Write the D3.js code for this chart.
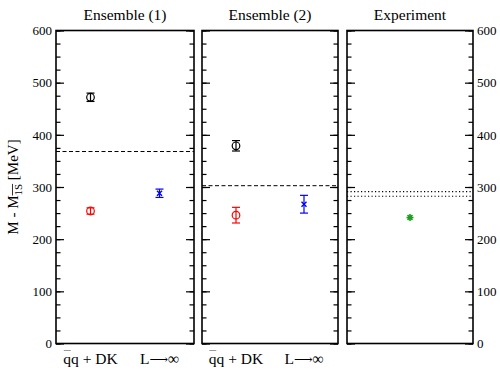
<!DOCTYPE html>
<html>
<head>
<meta charset="utf-8">
<script src="https://cdn.jsdelivr.net/npm/d3@7"></script>
<style>
  body { margin: 0; background: #fff; }
</style>
</head>
<body>
<div id="chart"></div>
<script>
// data (MeV)
var panelTitles = ["Ensemble (1)", "Ensemble (2)", "Experiment"];
var categories = ["qq + DK", "L\u2192\u221e"];
var qqdkHigh = [472, 379];      // black circles
var qqdkHighErr = [8, 10];
var qqdkLow = [254, 246];       // red circles
var qqdkLowErr = [6, 15];
var infVolume = [288, 267];     // blue crosses
var infVolumeErr = [8, 17];
var latticeThreshold = [368, 302.5];
var expMass = [241.6];
var expThresholds = [282.3, 291.0];
var yTicks = [0, 100, 200, 300, 400, 500, 600];

// layout
var width = 500,
    height = 370,
    plotTop = 30.5,
    plotBottom = 343.5;
var panelX = [[56, 194], [202, 338], [347, 473]];
var serif = "'Liberation Serif', 'Times New Roman', Times, 'DejaVu Serif', serif";

var svg = d3.select("#chart")
  .append("svg")
    .attr("width", width)
    .attr("height", height)
    .attr("font-family", serif);

var y = d3.scaleLinear().domain([0, 600]).range([plotBottom, plotTop]);

panelX.forEach(function(px, i) {
  var g = svg.append("g");
  var x = i < 2
    ? d3.scaleLinear().domain([0, 4]).range(px)
    : d3.scaleLinear().domain([0, 2]).range(px);

  // minor + major ticks, inward on both sides
  [[d3.axisLeft, px[0]], [d3.axisRight, px[1]]].forEach(function(a) {
    g.append("g")
      .attr("transform", "translate(" + a[1] + ",0)")
      .call(a[0](y).tickValues(d3.range(0, 601, 25)).tickFormat("").tickSize(-4.5))
      .call(function(s) { s.select(".domain").remove(); })
      .selectAll("line").attr("stroke", "#000").attr("stroke-width", 1.2);
    g.append("g")
      .attr("transform", "translate(" + a[1] + ",0)")
      .call(a[0](y).tickValues(yTicks).tickFormat("").tickSize(-8))
      .call(function(s) { s.select(".domain").remove(); })
      .selectAll("line").attr("stroke", "#000").attr("stroke-width", 1.2);
  });

  // frame
  g.append("rect")
    .attr("x", px[0]).attr("y", plotTop)
    .attr("width", px[1] - px[0]).attr("height", plotBottom - plotTop)
    .attr("fill", "none").attr("stroke", "#000").attr("stroke-width", 1.6);

  // title
  g.append("text")
    .attr("x", (px[0] + px[1]) / 2).attr("y", 19.5)
    .attr("text-anchor", "middle")
    .attr("font-family", serif)
    .attr("font-size", 15.5)
    .text(panelTitles[i]);

  if (i < 2) {
    // threshold dashed line
    g.append("line")
      .attr("x1", px[0]).attr("x2", px[1])
      .attr("y1", y(latticeThreshold[i])).attr("y2", y(latticeThreshold[i]))
      .attr("stroke", "#000").attr("stroke-width", 1)
      .attr("stroke-dasharray", "4,2.5");

    var pts = [
      {v: qqdkHigh[i], e: qqdkHighErr[i], c: "#000", pos: 1, sym: "circle"},
      {v: qqdkLow[i], e: qqdkLowErr[i], c: "#ff0000", pos: 1, sym: "circle"},
      {v: infVolume[i], e: infVolumeErr[i], c: "#0000ff", pos: 3, sym: "cross"}
    ];
    pts.forEach(function(d) {
      var cx = x(d.pos), cy = y(d.v);
      g.append("line")
        .attr("x1", cx).attr("x2", cx)
        .attr("y1", y(d.v - d.e)).attr("y2", y(d.v + d.e))
        .attr("stroke", d.c).attr("stroke-width", 1.2);
      [d.v - d.e, d.v + d.e].forEach(function(ev) {
        g.append("line")
          .attr("x1", cx - 4).attr("x2", cx + 4)
          .attr("y1", y(ev)).attr("y2", y(ev))
          .attr("stroke", d.c).attr("stroke-width", 1.2);
      });
      if (d.sym === "circle") {
        g.append("circle")
          .attr("cx", cx).attr("cy", cy).attr("r", 3.8)
          .attr("fill", "none").attr("stroke", d.c).attr("stroke-width", 1.2);
      } else {
        g.append("path")
          .attr("d", "M" + (cx - 2.5) + "," + (cy - 2.5) + "L" + (cx + 2.5) + "," + (cy + 2.5) +
                     "M" + (cx - 2.5) + "," + (cy + 2.5) + "L" + (cx + 2.5) + "," + (cy - 2.5))
          .attr("stroke", d.c).attr("stroke-width", 1.4);
      }
    });

    // x labels (overline over the antiquark drawn as a thin line)
    var t1 = g.append("text")
      .attr("x", x(1)).attr("y", 364)
      .attr("text-anchor", "middle")
      .attr("font-family", serif)
      .attr("font-size", 15.5)
      .text(categories[0]);
    var bb = t1.node().getBBox();
    g.append("line")
      .attr("x1", bb.x + 0.5).attr("x2", bb.x + 7.5)
      .attr("y1", 350.5).attr("y2", 350.5)
      .attr("stroke", "#999").attr("stroke-width", 1);
    var t2 = g.append("text")
      .attr("x", x(3)).attr("y", 364)
      .attr("text-anchor", "middle")
      .attr("font-family", serif)
      .attr("font-size", 15.5);
    t2.append("tspan").text(categories[1].charAt(0));
    t2.append("tspan").attr("font-size", 13).text("\u27f6");
    t2.append("tspan").text(categories[1].slice(2));
  } else {
    expThresholds.forEach(function(v) {
      g.append("line")
        .attr("x1", px[0]).attr("x2", px[1])
        .attr("y1", y(v)).attr("y2", y(v))
        .attr("stroke", "#000").attr("stroke-width", 1.2)
        .attr("stroke-dasharray", "1.2,2.3");
    });
    expMass.forEach(function(v) {
      var cx = x(1), cy = y(v), r = 3.5;
      var star = "";
      for (var k = 0; k < 4; k++) {
        var a = k * Math.PI / 4;
        star += "M" + (cx - r * Math.cos(a)) + "," + (cy - r * Math.sin(a)) +
                "L" + (cx + r * Math.cos(a)) + "," + (cy + r * Math.sin(a));
      }
      g.append("path").attr("d", star)
        .attr("stroke", "#1e9e1e").attr("stroke-width", 1.6);
    });
  }
});

// y tick labels
[[d3.axisLeft, panelX[0][0]], [d3.axisRight, panelX[2][1]]].forEach(function(a) {
  svg.append("g")
    .attr("transform", "translate(" + a[1] + ",0)")
    .call(a[0](y).tickValues(yTicks).tickSize(0).tickPadding(4))
    .attr("font-family", serif)
    .attr("font-size", 13)
    .call(function(s) { s.select(".domain").remove(); });
});

// y axis label
var yl = svg.append("text")
  .attr("transform", "translate(17.5," + (plotTop + plotBottom) / 2 + ") rotate(-90)")
  .attr("text-anchor", "middle")
  .attr("font-family", serif)
  .attr("font-size", 15);
yl.append("tspan").text("M - M");
yl.append("tspan").attr("class", "sub").attr("dy", 4).attr("font-size", 11).text("1S");
yl.append("tspan").attr("dy", -4).text(" [MeV]");
// overline over the subscript
var sub = yl.select(".sub").node();
var n = sub.getNumberOfChars();
var s0 = sub.getStartPositionOfChar(0), s1 = sub.getEndPositionOfChar(n - 1);
var ylBox = yl.node().getBBox();
svg.append("line")
  .attr("transform", "translate(17.5," + (plotTop + plotBottom) / 2 + ") rotate(-90)")
  .attr("x1", s0.x).attr("x2", s1.x)
  .attr("y1", -5).attr("y2", -5)
  .attr("stroke", "#000").attr("stroke-width", 0.8);
</script>
</body>
</html>
